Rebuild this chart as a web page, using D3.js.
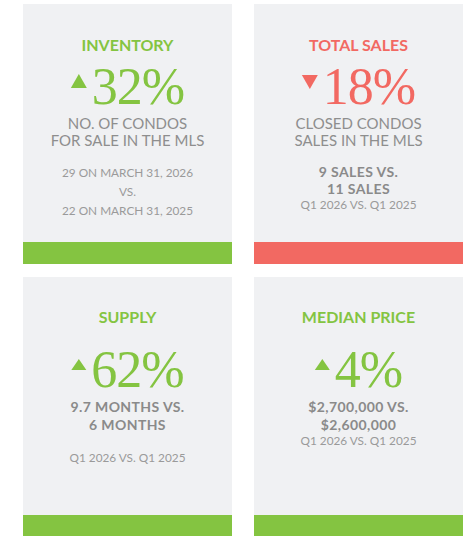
<!DOCTYPE html>
<html>
<head>
<meta charset="utf-8">
<script src="https://cdn.jsdelivr.net/npm/d3@7/dist/d3.min.js"></script>
<style>
  body { margin: 0; background: #fff; }
  svg { display: block; }
</style>
</head>
<body>
<div id="stats"></div>
<script>
// Card data
var titles = ["INVENTORY", "TOTAL SALES", "SUPPLY", "MEDIAN PRICE"];
var pctChanges = [32, 18, 62, 4];
var directions = ["up", "down", "up", "up"];
var descLines = [
    ["NO. OF CONDOS", "FOR SALE IN THE MLS"],
    ["CLOSED CONDOS", "SALES IN THE MLS"],
    [],
    []
];
var detailLines = [
    ["29 ON MARCH 31, 2026", "VS.", "22 ON MARCH 31, 2025"],
    ["9 SALES VS.", "11 SALES", "Q1 2026 VS. Q1 2025"],
    ["9.7 MONTHS VS.", "6 MONTHS", "Q1 2026 VS. Q1 2025"],
    ["$2,700,000 VS.", "$2,600,000", "Q1 2026 VS. Q1 2025"]
];

var W = 468, H = 536;
var green = "#84c441", red = "#f26962";
var sans = "Lato, 'Open Sans', sans-serif";

// per-card text layout (baselines relative to card top) and weights
var layout = [
    { title: 47, big: 100, tri: 70, triW: 16, triH: 14, desc: [125, 142], detail: [173, 192, 211], bold: [false, false, false] },
    { title: 47, big: 100, tri: 71, triW: 16, triH: 14, desc: [125, 142], detail: [173, 190, 205], bold: [true, true, false] },
    { title: 46, big: 110, tri: 82, triW: 15, triH: 11, desc: [], detail: [135, 153, 185], bold: [true, true, false] },
    { title: 46, big: 110, tri: 82, triW: 15, triH: 11, desc: [], detail: [135, 153, 168], bold: [true, true, false] }
];

var svg = d3.select("#stats").append("svg")
    .attr("width", W)
    .attr("height", H);

// grid of cards
var col = d3.scaleBand().domain([0, 1]).range([23, 463]).paddingInner(22 / 231);
var row = d3.scaleBand().domain([0, 1]).range([4, 537]).paddingInner(13 / 273);

var cardH = row.bandwidth(), cardW = col.bandwidth(), barH = 22;

titles.forEach(function (t, i) {
    var g = svg.append("g")
        .attr("transform", "translate(" + col(i % 2) + "," + row(Math.floor(i / 2)) + ")");
    var c = directions[i] === "up" ? green : red;
    var L = layout[i];
    var cx = cardW / 2;

    g.append("rect")
        .attr("width", cardW)
        .attr("height", cardH)
        .attr("fill", "#f0f1f3");

    g.append("rect")
        .attr("y", cardH - barH)
        .attr("width", cardW)
        .attr("height", barH)
        .attr("fill", c);

    // title
    g.append("text")
        .attr("x", cx)
        .attr("y", L.title)
        .attr("text-anchor", "middle")
        .style("font-family", sans)
        .style("font-weight", "bold")
        .style("font-size", "16px")
        .attr("fill", c)
        .text(t);

    // big percent with arrow
    var big = g.append("text")
        .attr("y", L.big)
        .style("font-family", "'Liberation Serif', serif")
        .style("font-size", "52px")
        .style("letter-spacing", "-1px")
        .attr("fill", c)
        .text(pctChanges[i] + "%");
    var bw = big.node().getComputedTextLength();
    var gap = 5;
    var x0 = cx - (L.triW + gap + bw) / 2;
    big.attr("x", x0 + L.triW + gap);
    var tp = directions[i] === "up"
        ? [[x0, L.tri + L.triH], [x0 + L.triW, L.tri + L.triH], [x0 + L.triW / 2, L.tri]]
        : [[x0, L.tri], [x0 + L.triW, L.tri], [x0 + L.triW / 2, L.tri + L.triH]];
    g.append("path")
        .attr("d", d3.line()(tp) + "Z")
        .attr("fill", c);

    // description
    descLines[i].forEach(function (d, j) {
        g.append("text")
            .attr("x", cx)
            .attr("y", L.desc[j])
            .attr("text-anchor", "middle")
            .style("font-family", sans)
            .style("font-size", "15px")
            .attr("fill", "#8e8e8e")
            .text(d);
    });

    // details
    detailLines[i].forEach(function (d, j) {
        g.append("text")
            .attr("x", cx)
            .attr("y", L.detail[j])
            .attr("text-anchor", "middle")
            .style("font-family", sans)
            .style("font-weight", L.bold[j] ? "bold" : "normal")
            .style("font-size", L.bold[j] ? "14px" : "11.8px")
            .style("letter-spacing", L.bold[j] ? "0.4px" : "0px")
            .attr("fill", L.bold[j] ? "#8a8a8a" : "#9a9a9a")
            .text(d);
    });
});
</script>
</body>
</html>
